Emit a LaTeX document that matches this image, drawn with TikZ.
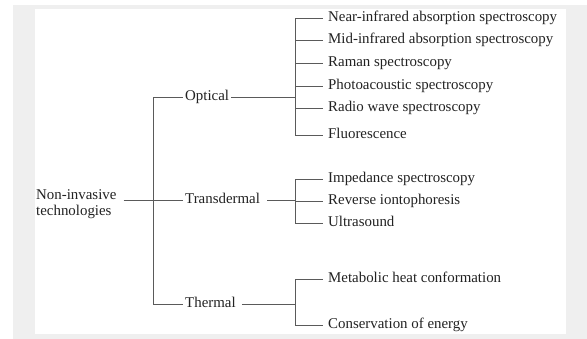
\documentclass[tikz,border=0pt]{standalone}
\usepackage{fontspec}
\setmainfont{Liberation Serif}
\definecolor{bggray}{HTML}{EFEFEF}
\definecolor{linegray}{HTML}{5A5A5A}
\definecolor{textgray}{HTML}{222222}
\begin{document}
\begin{tikzpicture}[x=1pt,y=-1pt,
  lbl/.style={anchor=west,inner xsep=0pt,inner ysep=0pt,text height=7pt,text depth=0pt,
    text=textgray,font=\fontsize{14.9}{17}\selectfont},
  conn/.style={draw=linegray,line width=0.9pt}]
\useasboundingbox (0,0) rectangle (587,339);
\fill[white] (0,0) rectangle (587,339);
\fill[bggray] (13,5) rectangle (587,339);
\fill[white] (35,9) rectangle (566,334);
% root
\node[anchor=west,inner sep=0pt,align=left,text=textgray,font=\fontsize{14.9}{16.5}\selectfont] (root) at (36,204) {Non-invasive\\technologies};
\coordinate (jroot) at (153,200);
% categories
\node[lbl] (opt) at (185,97) {Optical};
\node[lbl] (trans) at (185,200) {Transdermal};
\node[lbl] (therm) at (185,304) {Thermal};
\coordinate (jopt) at (295,97);
\coordinate (jtrans) at (295,200);
\coordinate (jtherm) at (295,304);
% leaves
\node[lbl] (o1) at (328,18) {Near-infrared absorption spectroscopy};
\node[lbl] (o2) at (328,40) {Mid-infrared absorption spectroscopy};
\node[lbl] (o3) at (328,63) {Raman spectroscopy};
\node[lbl] (o4) at (328,86) {Photoacoustic spectroscopy};
\node[lbl] (o5) at (328,108) {Radio wave spectroscopy};
\node[lbl] (o6) at (328,135) {Fluorescence};
\node[lbl] (t1) at (328,179) {Impedance spectroscopy};
\node[lbl] (t2) at (328,201.5) {Reverse iontophoresis};
\node[lbl] (t3) at (328,223) {Ultrasound};
\node[lbl] (h1) at (328,279) {Metabolic heat conformation};
\node[lbl] (h2) at (328,325.5) {Conservation of energy};
% connectors
\draw[conn] ([xshift=7pt]root.east |- jroot) -- (jroot);
\draw[conn] (jroot) |- ([xshift=-2pt]opt.west);
\draw[conn] (jroot) -- ([xshift=-2pt]trans.west);
\draw[conn] (jroot) |- ([xshift=-2pt]therm.west);
\draw[conn] ([xshift=2pt]opt.east) -- (jopt);
\draw[conn] ([xshift=7pt]trans.east) -- (jtrans);
\draw[conn] ([xshift=6pt]therm.east) -- (jtherm);
\foreach \n in {o1,o2,o3,o4,o5,o6} \draw[conn] (jopt) |- ([xshift=-5pt]\n.west);
\foreach \n in {t1,t2,t3} \draw[conn] (jtrans) |- ([xshift=-5pt]\n.west);
\foreach \n in {h1,h2} \draw[conn] (jtherm) |- ([xshift=-5pt]\n.west);
\end{tikzpicture}
\end{document}
